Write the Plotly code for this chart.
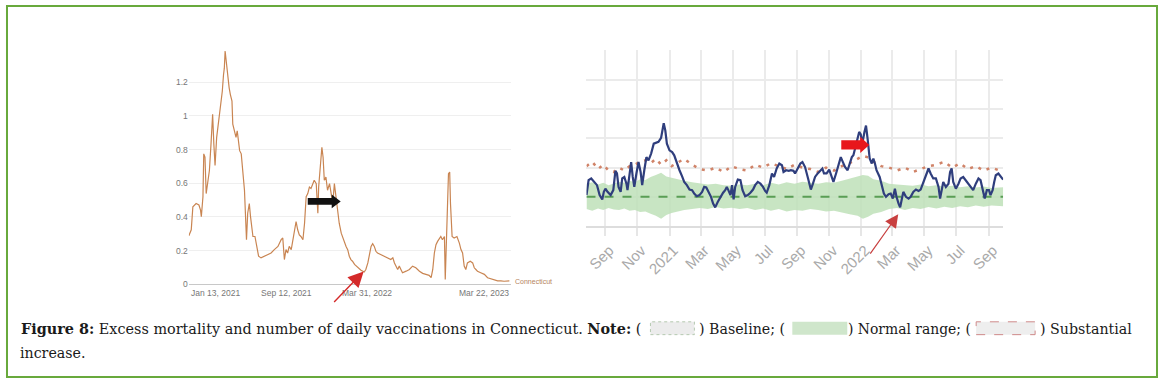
import pandas as pd
import plotly.graph_objects as go

# ---------------- data: left panel (daily vaccinations, Connecticut) ----------------
vax_start = "2021-01-13"
vax_days = [0, 6, 10, 18, 25, 29, 31, 35, 37, 40, 43, 47, 51, 55, 59, 62, 65, 69, 72, 76,
            80, 83, 86, 88, 90, 93, 97, 100, 103, 107, 109, 113, 117, 120, 123, 126, 130, 134, 138, 140,
            143, 146, 150, 153, 156, 159, 164, 169, 173, 179, 188, 196, 204, 212, 221, 229, 233, 237, 241, 245,
            249, 254, 258, 262, 266, 270, 274, 278, 283, 287, 291, 295, 299, 303, 307, 311, 316, 320, 322, 326,
            330, 333, 336, 340, 344, 349, 353, 357, 361, 365, 369, 373, 378, 382, 386, 390, 394, 398, 402, 406,
            411, 419, 427, 435, 439, 444, 448, 452, 456, 460, 464, 468, 477, 485, 493, 501, 506, 510, 518, 522,
            526, 530, 539, 547, 555, 563, 572, 580, 588, 596, 601, 605, 609, 613, 617, 625, 629, 634, 636, 639,
            641, 644, 647, 649, 653, 658, 665, 671, 675, 679, 683, 687, 691, 698, 704, 708, 712, 716, 724, 733,
            741, 749, 757, 766, 774, 782, 795]
vax_values = [0.288, 0.324, 0.461, 0.480, 0.471, 0.441, 0.402, 0.520, 0.775, 0.755, 0.539, 0.618, 0.676, 0.833, 1.010, 0.833, 0.706, 0.873, 0.931, 1.010,
              1.088, 1.147, 1.245, 1.284, 1.386, 1.314, 1.206, 1.167, 1.127, 1.088, 0.951, 0.912, 0.873, 0.912, 0.853, 0.794, 0.775, 0.676, 0.559, 0.441,
              0.265, 0.422, 0.480, 0.402, 0.324, 0.284, 0.284, 0.206, 0.167, 0.157, 0.167, 0.176, 0.186, 0.206, 0.225, 0.265, 0.275, 0.147, 0.206, 0.186,
              0.225, 0.206, 0.265, 0.324, 0.373, 0.324, 0.294, 0.284, 0.265, 0.363, 0.520, 0.539, 0.578, 0.569, 0.598, 0.618, 0.598, 0.422, 0.578, 0.716,
              0.814, 0.755, 0.618, 0.637, 0.559, 0.598, 0.539, 0.480, 0.598, 0.520, 0.441, 0.363, 0.304, 0.275, 0.245, 0.225, 0.206, 0.167, 0.147, 0.137,
              0.118, 0.098, 0.084, 0.073, 0.088, 0.127, 0.186, 0.225, 0.241, 0.225, 0.196, 0.186, 0.176, 0.167, 0.157, 0.147, 0.157, 0.127, 0.088, 0.108,
              0.088, 0.069, 0.078, 0.088, 0.108, 0.098, 0.078, 0.065, 0.059, 0.053, 0.039, 0.088, 0.186, 0.235, 0.255, 0.284, 0.265, 0.284, 0.029, 0.245,
              0.480, 0.657, 0.667, 0.480, 0.284, 0.275, 0.284, 0.245, 0.206, 0.186, 0.108, 0.088, 0.127, 0.137, 0.127, 0.098, 0.088, 0.078, 0.069, 0.059,
              0.039, 0.033, 0.025, 0.020, 0.020, 0.018, 0.020]
vax_ticks = ["2021-01-13", "2021-09-12", "2022-03-31", "2023-03-22"]
vax_ticktext = ["Jan 13, 2021", "Sep 12, 2021", "Mar 31, 2022", "Mar 22, 2023"]
vax_yticks = [0, 0.2, 0.4, 0.6, 0.8, 1.0, 1.2]
vax_yticktext = ["0", "0.2", "0.4", "0.6", "0.8", "1", "1.2"]

# ---------------- data: right panel (excess mortality) ----------------
mort_start = "2020-09-01"
obs_days = [-36, -32, -27, -22, -16, -11, -6, -3, 0, 4, 10, 15, 19, 22, 25, 29, 32, 36, 40, 42,
            46, 49, 52, 55, 59, 63, 67, 70, 74, 78, 82, 87, 92, 97, 101, 106, 111, 114, 117, 122,
            127, 131, 136, 141, 146, 150, 155, 160, 165, 169, 174, 179, 184, 188, 192, 196, 201, 205, 209, 214,
            219, 224, 228, 231, 234, 238, 241, 244, 247, 252, 257, 261, 266, 271, 276, 281, 285, 290, 295, 300,
            304, 307, 312, 317, 321, 326, 331, 336, 339, 344, 349, 353, 358, 361, 366, 371, 375, 380, 385, 388,
            391, 395, 399, 404, 409, 413, 416, 421, 426, 431, 434, 439, 444, 448, 452, 456, 461, 465, 469, 472,
            475, 480, 483, 486, 489, 493, 496, 499, 503, 507, 510, 513, 516, 522, 526, 530, 534, 539, 543, 547,
            551, 554, 558, 561, 564, 567, 572, 577, 581, 586, 591, 596, 600, 605, 610, 615, 619, 624, 629, 634,
            637, 640, 643, 648, 653, 656, 659, 662, 667, 672, 676, 681, 686, 691, 696, 700, 705, 710, 714, 719,
            722, 726, 730, 733, 737, 740, 743, 748, 752, 757]
obs_values = [1.06, 1.57, 1.63, 1.51, 1.40, 1.06, 0.91, 1.17, 1.28, 1.17, 1.06, 1.23, 1.89, 1.80, 1.34, 1.17, 1.63, 1.68, 1.45, 1.23,
              1.91, 2.19, 1.68, 1.34, 1.80, 2.19, 1.85, 1.40, 1.91, 2.36, 2.25, 2.48, 2.82, 2.84, 2.88, 3.02, 3.52, 3.27, 2.82, 2.59,
              2.53, 2.42, 2.14, 1.91, 1.70, 1.51, 1.40, 1.25, 1.23, 1.11, 1.02, 1.06, 1.17, 1.34, 1.32, 1.17, 1.00, 0.77, 0.64, 0.83,
              1.00, 1.14, 1.23, 1.34, 1.23, 1.06, 1.40, 0.91, 1.34, 1.59, 1.57, 1.23, 1.02, 1.06, 1.14, 1.25, 1.40, 1.51, 1.45, 1.34,
              1.20, 1.14, 1.40, 1.80, 1.68, 1.97, 2.14, 2.08, 1.85, 1.91, 1.89, 1.91, 1.89, 1.80, 1.97, 2.14, 2.19, 2.02, 1.68, 1.40,
              1.25, 1.45, 1.68, 1.80, 1.91, 1.97, 1.80, 1.80, 1.93, 1.68, 1.51, 1.80, 2.14, 2.36, 2.19, 2.02, 1.91, 2.14, 2.36, 2.42,
              2.65, 2.93, 3.22, 3.14, 2.82, 3.22, 3.44, 2.99, 2.31, 2.14, 2.31, 2.14, 1.91, 1.68, 1.34, 1.11, 1.00, 1.09, 1.11, 0.94,
              1.28, 1.00, 0.77, 0.64, 0.91, 1.17, 1.00, 0.94, 1.00, 1.17, 1.25, 1.20, 1.25, 1.51, 1.77, 1.97, 1.80, 1.63, 1.63, 1.34,
              0.94, 1.28, 1.51, 1.34, 1.45, 1.85, 1.97, 1.51, 1.28, 1.45, 1.63, 1.68, 1.57, 1.45, 1.34, 1.23, 1.45, 1.63, 1.57, 1.11,
              0.94, 1.23, 1.23, 1.06, 1.23, 1.51, 1.74, 1.80, 1.70, 1.59]
band_days = [-36, -25, -14, -4, 6, 16, 26, 36, 46, 56, 66, 76, 86, 96, 106, 116, 126, 136, 150, 165,
             180, 195, 210, 225, 240, 255, 270, 285, 300, 315, 330, 345, 360, 375, 390, 405, 420, 435, 450, 465,
             480, 490, 500, 510, 525, 540, 555, 570, 585, 600, 615, 630, 645, 660, 675, 690, 705, 720, 735, 757]
band_upper = [1.45, 1.50, 1.42, 1.48, 1.40, 1.45, 1.52, 1.48, 1.55, 1.50, 1.60, 1.58, 1.68, 1.75, 1.82, 1.70, 1.65, 1.60, 1.55, 1.50,
              1.47, 1.42, 1.45, 1.40, 1.38, 1.42, 1.40, 1.45, 1.40, 1.48, 1.42, 1.50, 1.45, 1.52, 1.48, 1.45, 1.50, 1.48, 1.55, 1.62,
              1.70, 1.75, 1.72, 1.60, 1.55, 1.45, 1.42, 1.40, 1.38, 1.42, 1.36, 1.40, 1.35, 1.38, 1.33, 1.36, 1.32, 1.35, 1.30, 1.33]
band_lower = [0.58, 0.52, 0.60, 0.55, 0.62, 0.57, 0.55, 0.60, 0.52, 0.55, 0.48, 0.50, 0.42, 0.35, 0.25, 0.38, 0.45, 0.50, 0.55, 0.58,
              0.62, 0.58, 0.65, 0.60, 0.63, 0.58, 0.62, 0.55, 0.60, 0.52, 0.58, 0.50, 0.55, 0.52, 0.58, 0.55, 0.50, 0.52, 0.45, 0.40,
              0.35, 0.25, 0.32, 0.42, 0.48, 0.58, 0.62, 0.55, 0.62, 0.58, 0.65, 0.60, 0.66, 0.62, 0.68, 0.64, 0.70, 0.66, 0.70, 0.68]
threshold = [2.05, 2.20, 1.95, 2.10, 1.90, 1.85, 2.00, 1.90, 2.05, 2.10, 2.20, 2.25, 2.15, 2.30, 2.10, 2.25, 2.05, 2.15, 2.30, 2.10,
             1.95, 1.90, 2.00, 1.85, 2.05, 1.95, 1.90, 2.10, 2.00, 2.15, 2.05, 1.95, 2.10, 2.00, 1.95, 1.85, 2.00, 1.90, 2.05, 2.15,
             2.30, 2.40, 2.35, 2.20, 2.05, 2.00, 1.90, 2.00, 1.85, 1.95, 2.05, 2.10, 2.20, 2.00, 2.15, 1.95, 2.05, 1.90, 2.00, 1.85]
baseline = 1.0
mort_range = ["2020-07-27", "2022-09-28"]
mort_ticks = ["2020-09-01", "2020-11-01", "2021-01-01", "2021-03-01", "2021-05-01", "2021-07-01", "2021-09-01",
              "2021-11-01", "2022-01-01", "2022-03-01", "2022-05-01", "2022-07-01", "2022-09-01"]
mort_ticktext = ["Sep", "Nov", "2021", "Mar", "May", "Jul", "Sep", "Nov", "2022", "Mar", "May", "Jul", "Sep"]

caption_1 = "<b>Figure 8:</b> Excess mortality and number of daily vaccinations in Connecticut. <b>Note:</b> ("
caption_2 = ") Baseline; ("
caption_3 = ") Normal range; ("
caption_4 = ") Substantial"
caption_5 = "increase."

# ---------------- build ----------------
W, H = 1163, 389
def fx(p): return p / W
def fy(p): return 1 - p / H

vax_x = pd.Timestamp(vax_start) + pd.to_timedelta(vax_days, unit="D")
t0 = pd.Timestamp(mort_start)
obs_x = t0 + pd.to_timedelta(obs_days, unit="D")
band_x = t0 + pd.to_timedelta(band_days, unit="D")

fig = go.Figure()

fig.add_trace(go.Scatter(x=vax_x, y=vax_values, mode="lines", xaxis="x", yaxis="y",
                         line=dict(color="#c98552", width=1.2), showlegend=False, hoverinfo="skip"))

fig.add_trace(go.Scatter(x=band_x, y=band_upper, mode="lines", xaxis="x2", yaxis="y2",
                         line=dict(width=0, color="rgba(0,0,0,0)"), showlegend=False, hoverinfo="skip"))
fig.add_trace(go.Scatter(x=band_x, y=band_lower, mode="lines", xaxis="x2", yaxis="y2", fill="tonexty",
                         fillcolor="rgba(190,225,185,0.85)", line=dict(width=0, color="rgba(0,0,0,0)"),
                         showlegend=False, hoverinfo="skip"))
fig.add_trace(go.Scatter(x=[pd.Timestamp(mort_range[0]), pd.Timestamp(mort_range[1])], y=[baseline, baseline],
                         mode="lines", xaxis="x2", yaxis="y2",
                         line=dict(color="#5a9e55", width=2, dash="dash"), showlegend=False, hoverinfo="skip"))
fig.add_trace(go.Scatter(x=band_x, y=threshold, mode="lines", xaxis="x2", yaxis="y2",
                         line=dict(color="#d08368", width=2.5, dash="3px,6px"), showlegend=False, hoverinfo="skip"))
fig.add_trace(go.Scatter(x=obs_x, y=obs_values, mode="lines", xaxis="x2", yaxis="y2",
                         line=dict(color="#2f3e7d", width=2.2), showlegend=False, hoverinfo="skip"))

ann = []
# left x tick labels
for i, (d, t) in enumerate(zip(vax_ticks, vax_ticktext)):
    anchor = "left" if i == 0 else ("right" if i == len(vax_ticks) - 1 else "center")
    ann.append(dict(x=d, y=fy(297), xref="x", yref="paper", text=t, showarrow=False,
                    xanchor=anchor, yanchor="middle", font=dict(size=8.5, color="#777", family="Arial")))
ann.append(dict(x=fx(512), y=fy(285), xref="paper", yref="paper", text="Connecticut", showarrow=False,
                xanchor="left", yanchor="middle", font=dict(size=7, color="#b58460", family="Arial")))
# red thin arrows
ann.append(dict(x=fx(363), y=fy(275), xref="paper", yref="paper", ax=-31, ay=32, text="", showarrow=True,
                arrowhead=2, arrowsize=2.2, arrowwidth=1.4, arrowcolor="#d42a2a"))
ann.append(dict(x=fx(898), y=fy(217), xref="paper", yref="paper", ax=-29, ay=41, text="", showarrow=True,
                arrowhead=2, arrowsize=2.2, arrowwidth=1.2, arrowcolor="#c84040"))
# caption
cf = dict(size=14.2, color="#1a1a1a", family="DejaVu Serif")
cf1 = dict(size=14.4, color="#1a1a1a", family="DejaVu Serif")
cf3 = dict(size=13.9, color="#1a1a1a", family="DejaVu Serif")
cy = fy(333)
ann.append(dict(x=fx(18), y=cy, xref="paper", yref="paper", text=caption_1, showarrow=False,
                xanchor="left", yanchor="middle", font=cf1))
ann.append(dict(x=fx(697), y=cy, xref="paper", yref="paper", text=caption_2, showarrow=False,
                xanchor="left", yanchor="middle", font=cf))
ann.append(dict(x=fx(973), y=cy, xref="paper", yref="paper", text=caption_3, showarrow=False,
                xanchor="right", yanchor="middle", font=cf3))
ann.append(dict(x=fx(1038), y=cy, xref="paper", yref="paper", text=caption_4, showarrow=False,
                xanchor="left", yanchor="middle", font=cf))
ann.append(dict(x=fx(17), y=fy(358), xref="paper", yref="paper", text=caption_5, showarrow=False,
                xanchor="left", yanchor="middle", font=cf))

shapes = [
    dict(type="rect", xref="paper", yref="paper", x0=fx(6), x1=fx(1157), y0=fy(382), y1=fy(6),
         line=dict(color="#68a93c", width=2), fillcolor="rgba(0,0,0,0)", layer="above"),
    # legend swatches in caption
    dict(type="rect", xref="paper", yref="paper", x0=fx(650), x1=fx(694), y0=fy(339), y1=fy(326),
         line=dict(color="#b5c9b0", width=1, dash="dot"), fillcolor="#ececec"),
    dict(type="rect", xref="paper", yref="paper", x0=fx(792), x1=fx(847), y0=fy(339), y1=fy(326),
         line=dict(width=0), fillcolor="#cfe6cb"),
    dict(type="rect", xref="paper", yref="paper", x0=fx(976), x1=fx(1035), y0=fy(339), y1=fy(326),
         line=dict(color="#cf8a8a", width=1, dash="dash"), fillcolor="#eeeeee"),
    # black block arrow (left)
    dict(type="path", xref="paper", yref="paper",
         path=f"M {fx(307)},{fy(200.5)} L {fx(331)},{fy(200.5)} L {fx(331)},{fy(197)} L {fx(340)},{fy(204)} "
              f"L {fx(331)},{fy(211)} L {fx(331)},{fy(207.5)} L {fx(307)},{fy(207.5)} Z",
         fillcolor="#111", line=dict(width=0), layer="above"),
    # red block arrow (right)
    dict(type="path", xref="paper", yref="paper",
         path=f"M {fx(841)},{fy(142)} L {fx(860)},{fy(142)} L {fx(860)},{fy(138.5)} L {fx(869)},{fy(147)} "
              f"L {fx(860)},{fy(155)} L {fx(860)},{fy(151.5)} L {fx(841)},{fy(151.5)} Z",
         fillcolor="#e8161c", line=dict(width=0), layer="above"),
]

fig.update_layout(
    width=W, height=H, margin=dict(l=0, r=0, t=0, b=0),
    paper_bgcolor="white", plot_bgcolor="white", showlegend=False,
    xaxis=dict(domain=[fx(188), fx(510)], type="date", range=[vax_ticks[0], vax_ticks[-1]],
               showgrid=False, showticklabels=False, ticks="", zeroline=False,
               showline=True, linecolor="#c8c8c8", linewidth=1, anchor="y"),
    yaxis=dict(domain=[fy(288), fy(51)], range=[0, 1.39], tickvals=vax_yticks, ticktext=vax_yticktext,
               showgrid=True, gridcolor="#efefef", gridwidth=1, zeroline=False, showline=False,
               tickfont=dict(size=8.5, color="#777", family="Arial"), ticks="", anchor="x"),
    xaxis2=dict(domain=[fx(586), fx(1003)], type="date", range=mort_range, tickvals=mort_ticks,
                ticktext=mort_ticktext, tickangle=-45, showgrid=True, gridcolor="#ebebeb", gridwidth=1.5,
                ticks="outside", ticklen=8, tickcolor="#e6e6e6", tickwidth=1.5, ticklabelshift=4,
                tickfont=dict(size=15, color="#a9a9a9", family="Liberation Sans"),
                showline=True, linecolor="#dddddd", linewidth=1.5, zeroline=False, anchor="y2"),
    yaxis2=dict(domain=[fy(229), fy(50.5)], range=[0, 6.03], dtick=1, tick0=0, showticklabels=False,
                showgrid=True, gridcolor="#ebebeb", gridwidth=1.5, zeroline=False, ticks="", anchor="x2"),
    annotations=ann, shapes=shapes,
)

fig.write_html("out.html", config={"displayModeBar": False},
               post_script="document.body.style.margin='0';document.body.style.overflow='hidden';")
